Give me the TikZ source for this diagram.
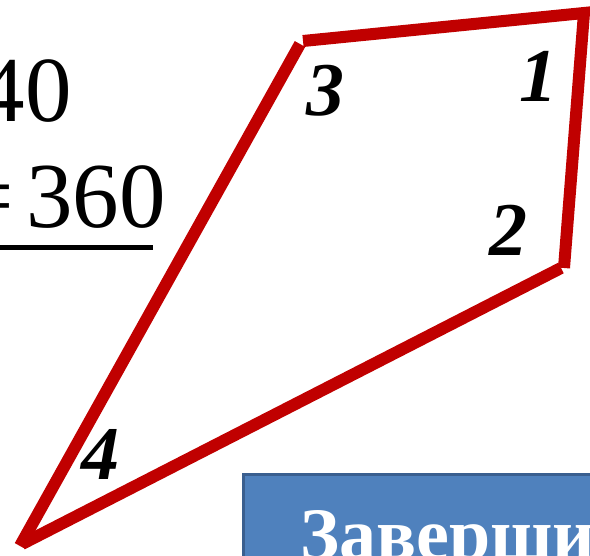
\documentclass[tikz,border=0pt]{standalone}
\usepackage{fontspec}
\setmainfont{Liberation Serif}
\begin{document}
\begin{tikzpicture}[x=1pt,y=-1pt,
  edge/.style={draw=redQ, line width=12pt, line join=miter, line cap=butt},
  corner/.style={font=\fontsize{76}{76}\selectfont\bfseries\itshape, inner sep=0pt},
  bigtxt/.style={font=\fontsize{93}{93}\selectfont, inner sep=0pt},
  btn/.style={fill=blueA, draw=blueB, line width=3pt}]
\definecolor{blueA}{HTML}{4F81BD}
\definecolor{blueB}{HTML}{3A5F8F}
\definecolor{redQ}{HTML}{C00000}
\useasboundingbox (0,0) rectangle (590,556);
% text on the left
\node[bigtxt, anchor=base east] (t40) at (72,122) {40};
\node[bigtxt, anchor=base east] (teq) at (14,228) {=};
\node[bigtxt, anchor=base east] (t360) at (166,228) {360};
\draw[line width=5pt] (0,248) coordinate (u1) -- (153,248) coordinate (u2);
% quadrilateral
\coordinate (v1) at (584,13);
\coordinate (v2a) at (564,268);
\coordinate (v2b) at (561,268);
\coordinate (v3a) at (300,44);
\coordinate (v3b) at (303,41);
\coordinate (v4a) at (20,546);
\coordinate (v4b) at (22,544);
\draw[edge] (v4a) -- (v3a);
\draw[edge] (v3b) -- (v1) -- (v2a);
\draw[edge] (v2b) -- (v4b);
% labels
\node[corner] (l1) at (538,76) {1};
\node[corner] (l2) at (508,230) {2};
\node[corner] (l3) at (325,91) {3};
\node[corner] (l4) at (100,454) {4};
% button
\begin{scope}
\clip (0,0) rectangle (590,556);
\draw[btn] (243.5,474.5) rectangle (620,600);
\node[anchor=base west, inner sep=0pt, text=white, font=\fontsize{74}{74}\selectfont\bfseries] (btn) at (300,559) {Завершить};
\end{scope}
\end{tikzpicture}
\end{document}
